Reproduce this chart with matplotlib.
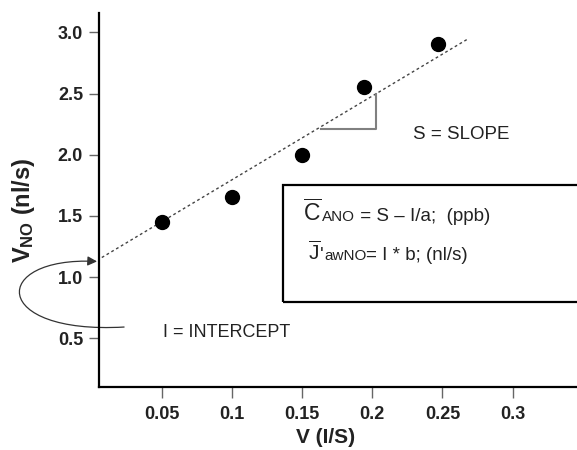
import numpy as np
import matplotlib
matplotlib.use("Agg")
import matplotlib.pyplot as plt
from matplotlib.path import Path
from matplotlib.patches import FancyArrowPatch, Rectangle
from matplotlib.offsetbox import TextArea, HPacker, AnnotationBbox

plt.rcParams["font.family"] = ["Liberation Sans", "DejaVu Sans"]
plt.rcParams["mathtext.fontset"] = "custom"
plt.rcParams["mathtext.rm"] = "Liberation Sans"
plt.rcParams["mathtext.bf"] = "Liberation Sans:bold"
plt.rcParams["mathtext.it"] = "Liberation Sans:italic"

# ---------- data ----------
flow = [0.05, 0.10, 0.15, 0.194, 0.247]
v_no = [1.45, 1.655, 2.00, 2.553, 2.904]

# drawn regression line (end points)
fit_x = [0.007, 0.268]
fit_y = [1.16, 2.945]

# slope bracket
slope_x = [0.1636, 0.2029, 0.2029]
slope_y = [2.21, 2.21, 2.496]

xticks = [0.05, 0.10, 0.15, 0.20, 0.25, 0.30]
xtick_labels = ["0.05", "0.1", "0.15", "0.2", "0.25", "0.3"]
yticks = [0.5, 1.0, 1.5, 2.0, 2.5, 3.0]
ytick_labels = ["0.5", "1.0", "1.5", "2.0", "2.5", "3.0"]

TXT = "#222222"

fig = plt.figure(figsize=(5.77, 4.5), dpi=100)
ax = fig.add_axes([99 / 577, 1 - 387 / 450, (577 - 99) / 577, (387 - 13) / 450])

ax.plot(fit_x, fit_y, color="#444444", lw=1.0, ls=(0, (2, 2)))
ax.plot(flow, v_no, "o", color="black", ms=10)
ax.plot(slope_x, slope_y, color="#808080", lw=1.5)

ax.set_xlim(0.005, 0.346)
ax.set_ylim(0.102, 3.158)

for s in ["top", "right"]:
    ax.spines[s].set_visible(False)
for s in ["left", "bottom"]:
    ax.spines[s].set_linewidth(1.6)

ax.set_xticks(xticks)
ax.set_xticklabels(xtick_labels)
ax.set_yticks(yticks)
ax.set_yticklabels(ytick_labels)
ax.tick_params(axis="x", length=8, width=1, color="#666666", pad=6,
               labelsize=13)
ax.tick_params(axis="y", length=7.5, width=1, color="#666666", pad=4,
               labelsize=13)
for lab in ax.get_xticklabels() + ax.get_yticklabels():
    lab.set_fontweight("bold")
    lab.set_color(TXT)

ax.set_xlabel("V (I/S)", fontsize=15, fontweight="bold", color=TXT)
ax.xaxis.set_label_coords((326 - 99) / 478, (387 - 428) / 374)
ax.set_ylabel(r"$\mathbf{V}_{\mathbf{NO}}$ (nl/s)", fontsize=17,
              fontweight="bold", color=TXT)
ax.yaxis.set_label_coords((37 - 99) / 478, (387 - 210) / 374)

# annotations
ax.text(0.229, 2.128, "S = SLOPE", fontsize=13.5, color=TXT, va="baseline")
ax.text(0.0507, 0.511, "I = INTERCEPT", fontsize=13, color=TXT, va="baseline")

# curved arrow pointing to the intercept
verts = [(0.0229, 0.592), (-0.073, 0.53), (-0.073, 1.17), (0.0036, 1.128)]
codes = [Path.MOVETO, Path.CURVE4, Path.CURVE4, Path.CURVE4]
arrow = FancyArrowPatch(path=Path(verts, codes), arrowstyle="-|>",
                        mutation_scale=14, color="#333333", lw=0.9,
                        transform=ax.transData, clip_on=False)
ax.add_patch(arrow)

# equation box
box = Rectangle((0.385, 0.227), 0.65, 0.313, transform=ax.transAxes,
                fill=False, edgecolor="black", lw=1.6, clip_on=False)
ax.add_patch(box)


def eq_line(parts):
    kids = [TextArea(t, textprops=dict(fontsize=fs, color=TXT)) for t, fs in parts]
    return HPacker(children=kids, align="baseline", pad=0, sep=0)


line1 = eq_line([(r"$\overline{\mathrm{C}}$", 16.5), ("ANO", 11),
                 (" = S \u2013 I/a;  (ppb)", 13.5)])
line2 = eq_line([(r"$\overline{\mathrm{J}}$", 15), ("'", 14), ("awNO", 11),
                 ("= I * b; (nl/s)", 13.5)])
for pack, xy in [(line1, (0.427, 0.430)), (line2, (0.437, 0.329))]:
    ab = AnnotationBbox(pack, xy, xycoords="axes fraction", box_alignment=(0, 0),
                        frameon=False, pad=0)
    ax.add_artist(ab)

fig.savefig("out.png", dpi=100)
